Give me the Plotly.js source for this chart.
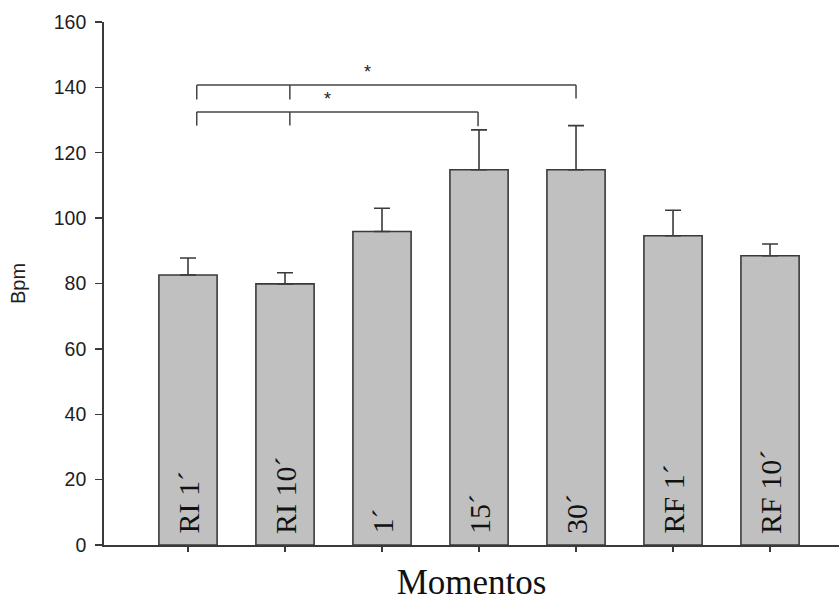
<!DOCTYPE html>
<html>
<head>
<meta charset="utf-8">
<script src="https://cdn.plot.ly/plotly-3.0.1.min.js"></script>
<style>
  html, body { margin: 0; padding: 0; background: #fff; }
  #chart { width: 839px; height: 603px; }
</style>
</head>
<body>
<div id="chart"></div>
<script>
// Heart rate (Bpm) at each measurement moment
const moments = ["RI 1´", "RI 10´", "1´", "15´", "30´", "RF 1´", "RF 10´"];
const bpmMean = [82.6, 79.9, 95.9, 114.8, 114.8, 94.6, 88.5];
const bpmSD   = [5.2, 3.4, 7.1, 12.2, 13.5, 7.8, 3.6];
const yTicks  = [0, 20, 40, 60, 80, 100, 120, 140, 160];

const xIdx = moments.map((_, i) => i);
const edge = "#3a3a3a";

const bars = {
  type: "bar",
  x: xIdx,
  y: bpmMean,
  width: 0.6,
  marker: { color: "#c0c0c0", line: { color: edge, width: 1.6 } },
  error_y: {
    type: "data",
    symmetric: false,
    array: bpmSD,
    arrayminus: bpmSD.map(() => 0),
    color: edge,
    thickness: 1.6,
    width: 8
  },
  hoverinfo: "skip"
};

// Rotated moment names inside each bar, sitting just above the baseline
const barLabels = moments.map((m, i) => ({
  x: i, y: 0, xref: "x", yref: "y",
  text: m,
  showarrow: false,
  textangle: -90,
  xanchor: "center",
  yanchor: "bottom",
  yshift: 9,
  font: { family: "Liberation Serif, Times New Roman, serif", size: 30, color: "#111" }
}));

// Significance brackets
const bl = { color: "#444", width: 1.5 };
const seg = (x0, y0, x1, y1) => ({ type: "line", xref: "x", yref: "y", x0, y0, x1, y1, line: bl });
const shapes = [
  // RI 1´/RI 10´ vs 30´
  seg(0.09, 140.7, 4.0, 140.7),
  seg(0.09, 140.7, 0.09, 136.3),
  seg(1.05, 140.7, 1.05, 136.3),
  seg(4.0, 140.7, 4.0, 136.6),
  // RI 1´/RI 10´ vs 15´
  seg(0.09, 132.5, 2.99, 132.5),
  seg(0.09, 132.5, 0.09, 128.3),
  seg(1.05, 132.5, 1.05, 128.3),
  seg(2.99, 132.5, 2.99, 128.1)
];

const stars = [
  { x: 1.85, y: 140.9 },
  { x: 1.44, y: 132.7 }
].map(s => ({
  x: s.x, y: s.y, xref: "x", yref: "y", text: "*", showarrow: false,
  yanchor: "bottom", font: { family: "Liberation Sans, Arial, sans-serif", size: 18, color: "#222" }
}));

const layout = {
  width: 839, height: 603,
  margin: { l: 104, r: 0, t: 22, b: 58 },
  paper_bgcolor: "#fff", plot_bgcolor: "#fff",
  showlegend: false,
  xaxis: {
    range: [-0.866, 6.711],
    tickmode: "array", tickvals: xIdx, ticktext: moments.map(() => ""),
    ticks: "outside", ticklen: 5, tickwidth: 1.3, tickcolor: edge,
    showline: true, linecolor: edge, linewidth: 1.8,
    showgrid: false, zeroline: false, automargin: false,
    title: {
      text: "Momentos", standoff: 16,
      font: { family: "Liberation Serif, Times New Roman, serif", size: 35, color: "#111" }
    }
  },
  yaxis: {
    range: [0, 160],
    tickmode: "array", tickvals: yTicks,
    ticks: "outside", ticklen: 7, tickwidth: 1.3, tickcolor: edge,
    ticklabelstandoff: 5,
    tickfont: { family: "Liberation Sans, Arial, sans-serif", size: 19.5, color: "#1e1e1e" },
    showline: true, linecolor: edge, linewidth: 1.8,
    showgrid: false, zeroline: false, automargin: false,
    title: {
      text: "Bpm", standoff: 23,
      font: { family: "Liberation Sans, Arial, sans-serif", size: 20, color: "#1e1e1e" }
    }
  },
  shapes: shapes,
  annotations: barLabels.concat(stars)
};

Plotly.newPlot("chart", [bars], layout, { staticPlot: true, displayModeBar: false });
</script>
</body>
</html>
